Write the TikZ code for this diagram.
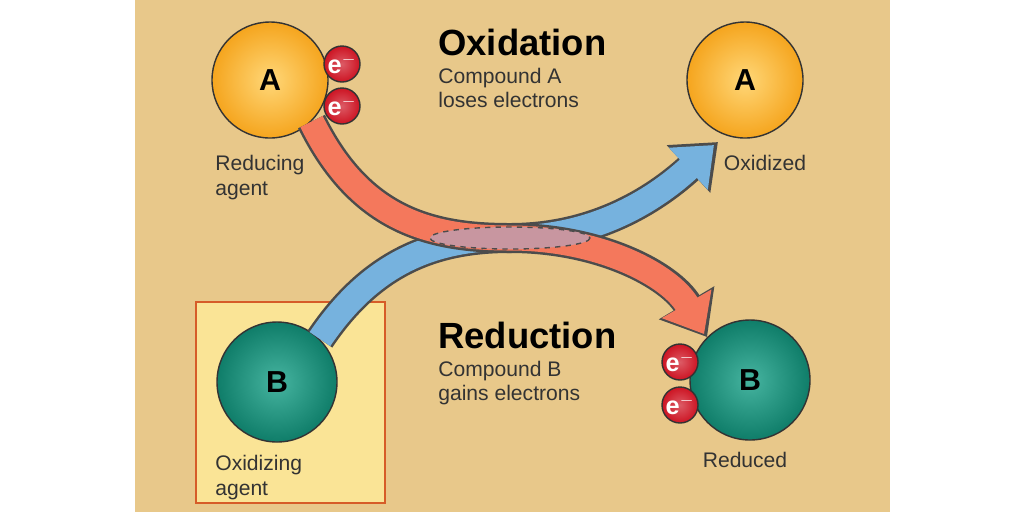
\documentclass[tikz,border=0pt]{standalone}
\usepackage{fontspec}
\setmainfont{Liberation Sans}
\usetikzlibrary{arrows.meta,positioning}
\definecolor{tan}{RGB}{232,200,138}
\definecolor{boxyel}{RGB}{250,228,150}
\definecolor{boxedge}{RGB}{214,92,40}
\definecolor{redband}{RGB}{244,120,92}
\definecolor{blueband}{RGB}{118,178,222}
\definecolor{lens}{RGB}{200,150,160}
\definecolor{eleRed}{RGB}{205,20,35}
\definecolor{ballOr}{RGB}{245,165,30}
\definecolor{ballOrIn}{RGB}{255,215,120}
\definecolor{ballGr}{RGB}{15,125,105}
\definecolor{ballGrIn}{RGB}{70,180,160}
\tikzset{
  orangeball/.style={circle,draw=black!80,thick,minimum size=116*0.02cm,inner color=ballOrIn,outer color=ballOr,font=\bfseries\LARGE},
  greenball/.style={circle,draw=black!80,thick,minimum size=120*0.02cm,inner color=ballGrIn,outer color=ballGr,font=\bfseries\LARGE},
  elec/.style={circle,draw=black!80,thick,minimum size=36*0.02cm,inner sep=0pt,inner color=eleRed!70!white,outer color=eleRed,text=white,font=\Large\bfseries},
  label/.style={align=left,anchor=north west,font=\large,text=black!80,inner sep=0pt},
  title/.style={anchor=west,font=\bfseries\huge,inner sep=0pt}
}
\begin{document}
\begin{tikzpicture}[x=0.02cm,y=-0.02cm]
\useasboundingbox (0,0) rectangle (1024,512);

% background
\fill[white] (0,0) rectangle (1024,512);
\fill[tan] (135,0) rectangle (890,512);
\fill[boxyel,draw=boxedge,line width=1.5pt] (196,302) rectangle (385,503);

% spheres
\node[orangeball] (A1) at (270,80) {A};
\node[greenball] (B1) at (277,382) {B};
\node[orangeball] (A2) at (745,80) {A};
\node[greenball] (B2) at (750,380) {B};

% electrons
\node[elec] (e1) at (342,64) {e$^{-}$};
\node[elec] (e2) at (342,106) {e$^{-}$};
\node[elec] (e3) at (680,362) {e$^{-}$};
\node[elec] (e4) at (680,405) {e$^{-}$};

% arrows
\draw[line width=30*0.02cm,black!70,-{Triangle[width=62*0.02cm,length=40*0.02cm]}]
  (B1.north east) .. controls (370,265) and (430,238) .. (510,238) .. controls (600,238) and (660,195) .. (718,142);
\draw[line width=25*0.02cm,blueband,-{Triangle[width=55*0.02cm,length=35*0.02cm]}]
  (B1.north east) .. controls (370,265) and (430,238) .. (510,238) .. controls (600,238) and (660,195) .. (714,145);
\draw[line width=30*0.02cm,black!70,-{Triangle[width=62*0.02cm,length=40*0.02cm]}]
  (A1.south east) .. controls (360,220) and (430,238) .. (510,238) .. controls (600,238) and (670,275) .. (B2.north west);
\draw[line width=25*0.02cm,redband,-{Triangle[width=55*0.02cm,length=35*0.02cm]}]
  (A1.south east) .. controls (360,220) and (430,238) .. (510,238) .. controls (600,238) and (670,275) .. ([shift={(-3,-3)}]B2.north west);
\fill[lens,draw=black!70,dashed,thick] (510,238) ellipse [x radius=80, y radius=11];

% texts
\node[label] (redag) at (215,155) {Reducing\\agent};
\node[label] (oxag) at (215,455) {Oxidizing\\agent};
\node[label,anchor=north] (oxd) at (765,155) {Oxidized};
\node[label,anchor=north] (red) at (745,452) {Reduced};
\node[title] (oxt) at (438,42) {Oxidation};
\node[label,below=12*0.02cm of oxt.south west,anchor=north west] (oxs) {Compound A\\loses electrons};
\node[title] (ret) at (438,335) {Reduction};
\node[label,below=12*0.02cm of ret.south west,anchor=north west] (res) {Compound B\\gains electrons};
\end{tikzpicture}
\end{document}
